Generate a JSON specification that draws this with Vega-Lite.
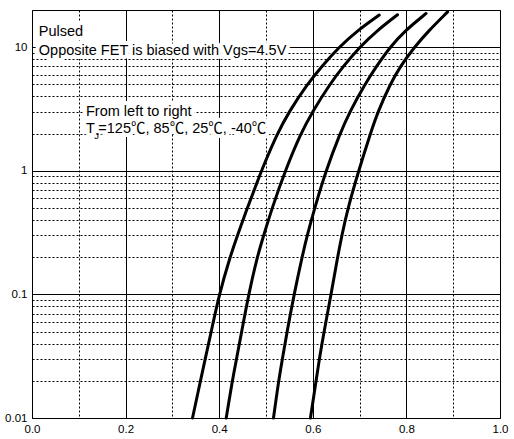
{
  "$schema": "https://vega.github.io/schema/vega-lite/v6.json",
  "width": 468,
  "height": 408,
  "autosize": {"type": "none"},
  "padding": {"left": 32, "top": 10, "right": 14, "bottom": 21},
  "background": "white",
  "config": {
    "view": {"stroke": "black", "strokeWidth": 1},
    "font": "Liberation Sans, 'Noto Sans CJK JP', sans-serif"
  },
  "datasets": {
    "curves": [
      {"temp": "125C", "x": 0.343, "y": 0.01},
      {"temp": "125C", "x": 0.360, "y": 0.02},
      {"temp": "125C", "x": 0.370, "y": 0.03},
      {"temp": "125C", "x": 0.383, "y": 0.05},
      {"temp": "125C", "x": 0.400, "y": 0.1},
      {"temp": "125C", "x": 0.423, "y": 0.2},
      {"temp": "125C", "x": 0.439, "y": 0.3},
      {"temp": "125C", "x": 0.460, "y": 0.5},
      {"temp": "125C", "x": 0.475, "y": 0.7},
      {"temp": "125C", "x": 0.490, "y": 1},
      {"temp": "125C", "x": 0.524, "y": 2},
      {"temp": "125C", "x": 0.549, "y": 3},
      {"temp": "125C", "x": 0.588, "y": 5},
      {"temp": "125C", "x": 0.619, "y": 7},
      {"temp": "125C", "x": 0.656, "y": 10},
      {"temp": "125C", "x": 0.693, "y": 13.4},
      {"temp": "125C", "x": 0.742, "y": 18.2},
      {"temp": "85C", "x": 0.415, "y": 0.01},
      {"temp": "85C", "x": 0.428, "y": 0.02},
      {"temp": "85C", "x": 0.437, "y": 0.03},
      {"temp": "85C", "x": 0.448, "y": 0.05},
      {"temp": "85C", "x": 0.463, "y": 0.1},
      {"temp": "85C", "x": 0.481, "y": 0.2},
      {"temp": "85C", "x": 0.495, "y": 0.3},
      {"temp": "85C", "x": 0.513, "y": 0.5},
      {"temp": "85C", "x": 0.541, "y": 1},
      {"temp": "85C", "x": 0.574, "y": 2},
      {"temp": "85C", "x": 0.599, "y": 3},
      {"temp": "85C", "x": 0.636, "y": 5},
      {"temp": "85C", "x": 0.665, "y": 7},
      {"temp": "85C", "x": 0.700, "y": 10},
      {"temp": "85C", "x": 0.735, "y": 13.4},
      {"temp": "85C", "x": 0.781, "y": 18.3},
      {"temp": "25C", "x": 0.516, "y": 0.01},
      {"temp": "25C", "x": 0.527, "y": 0.02},
      {"temp": "25C", "x": 0.535, "y": 0.03},
      {"temp": "25C", "x": 0.545, "y": 0.05},
      {"temp": "25C", "x": 0.560, "y": 0.1},
      {"temp": "25C", "x": 0.577, "y": 0.2},
      {"temp": "25C", "x": 0.588, "y": 0.3},
      {"temp": "25C", "x": 0.604, "y": 0.5},
      {"temp": "25C", "x": 0.628, "y": 1},
      {"temp": "25C", "x": 0.658, "y": 2},
      {"temp": "25C", "x": 0.679, "y": 3},
      {"temp": "25C", "x": 0.711, "y": 5},
      {"temp": "25C", "x": 0.736, "y": 7},
      {"temp": "25C", "x": 0.765, "y": 10},
      {"temp": "25C", "x": 0.795, "y": 13.4},
      {"temp": "25C", "x": 0.842, "y": 18.75},
      {"temp": "-40C", "x": 0.595, "y": 0.01},
      {"temp": "-40C", "x": 0.607, "y": 0.02},
      {"temp": "-40C", "x": 0.614, "y": 0.03},
      {"temp": "-40C", "x": 0.624, "y": 0.05},
      {"temp": "-40C", "x": 0.639, "y": 0.1},
      {"temp": "-40C", "x": 0.653, "y": 0.2},
      {"temp": "-40C", "x": 0.662, "y": 0.3},
      {"temp": "-40C", "x": 0.675, "y": 0.5},
      {"temp": "-40C", "x": 0.698, "y": 1},
      {"temp": "-40C", "x": 0.723, "y": 2},
      {"temp": "-40C", "x": 0.739, "y": 3},
      {"temp": "-40C", "x": 0.765, "y": 5},
      {"temp": "-40C", "x": 0.787, "y": 7},
      {"temp": "-40C", "x": 0.817, "y": 10},
      {"temp": "-40C", "x": 0.846, "y": 13.4},
      {"temp": "-40C", "x": 0.888, "y": 19.3}
    ],
    "notes": [
      {"label": "Pulsed", "x": 0.0145, "y": 12.25},
      {"label": "Opposite FET is biased with Vgs=4.5V", "x": 0.0145, "y": 8.63},
      {"label": "From left to right", "x": 0.1154, "y": 2.76},
      {"label": "T", "x": 0.1154, "y": 2.03},
      {"label": "=125℃, 85℃, 25℃, -40℃", "x": 0.1417, "y": 2.03}
    ],
    "subscript": [
      {"label": "J", "x": 0.1331, "y": 1.82}
    ]
  },
  "encoding": {
    "x": {
      "field": "x",
      "type": "quantitative",
      "scale": {"domain": [0, 1], "nice": false, "zero": false},
      "axis": {
        "title": null,
        "values": [0, 0.1, 0.2, 0.3, 0.4, 0.5, 0.6, 0.7, 0.8, 0.9, 1],
        "labelExpr": "round(datum.value * 10) % 2 == 0 ? format(datum.value, '.1f') : ''",
        "grid": true,
        "gridColor": "black",
        "gridOpacity": 1,
        "gridWidth": 1,
        "gridDash": {"condition": {"test": "round(datum.value * 10) % 2 == 0", "value": []}, "value": [2, 2]},
        "ticks": false,
        "domain": false,
        "labelFontSize": 11.5,
        "labelColor": "black",
        "labelPadding": 5,
        "labelFlush": false
      }
    },
    "y": {
      "field": "y",
      "type": "quantitative",
      "scale": {"type": "log", "domain": [0.01, 20], "nice": false},
      "axis": {
        "title": null,
        "values": [0.01, 0.02, 0.03, 0.04, 0.05, 0.06, 0.07, 0.08, 0.09, 0.1, 0.2, 0.3, 0.4, 0.5, 0.6, 0.7, 0.8, 0.9, 1, 2, 3, 4, 5, 6, 7, 8, 9, 10],
        "labelExpr": "abs(log(datum.value) / LN10 - round(log(datum.value) / LN10)) < 0.01 ? format(datum.value, '~g') : ''",
        "grid": true,
        "gridColor": "black",
        "gridOpacity": 1,
        "gridWidth": 1,
        "gridDash": {"condition": {"test": "abs(log(datum.value) / LN10 - round(log(datum.value) / LN10)) < 0.01", "value": []}, "value": [2, 2]},
        "ticks": false,
        "domain": false,
        "labelFontSize": 11.5,
        "labelColor": "black",
        "labelPadding": 5,
        "labelFlush": false
      }
    }
  },
  "layer": [
    {
      "data": {"name": "curves"},
      "mark": {"type": "line", "color": "black", "strokeWidth": 3, "strokeCap": "round", "interpolate": "basis"},
      "encoding": {"detail": {"field": "temp", "type": "nominal"}}
    },
    {
      "data": {"name": "notes"},
      "mark": {"type": "text", "align": "left", "baseline": "alphabetic", "fontSize": 14.5, "stroke": "white", "strokeWidth": 8, "strokeJoin": "round", "fill": "white"},
      "encoding": {"text": {"field": "label"}}
    },
    {
      "data": {"name": "notes"},
      "mark": {"type": "text", "align": "left", "baseline": "alphabetic", "fontSize": 14.5, "color": "black"},
      "encoding": {"text": {"field": "label"}}
    },
    {
      "data": {"name": "subscript"},
      "mark": {"type": "text", "align": "left", "baseline": "alphabetic", "fontSize": 9.5, "color": "black"},
      "encoding": {"text": {"field": "label"}}
    }
  ]
}
